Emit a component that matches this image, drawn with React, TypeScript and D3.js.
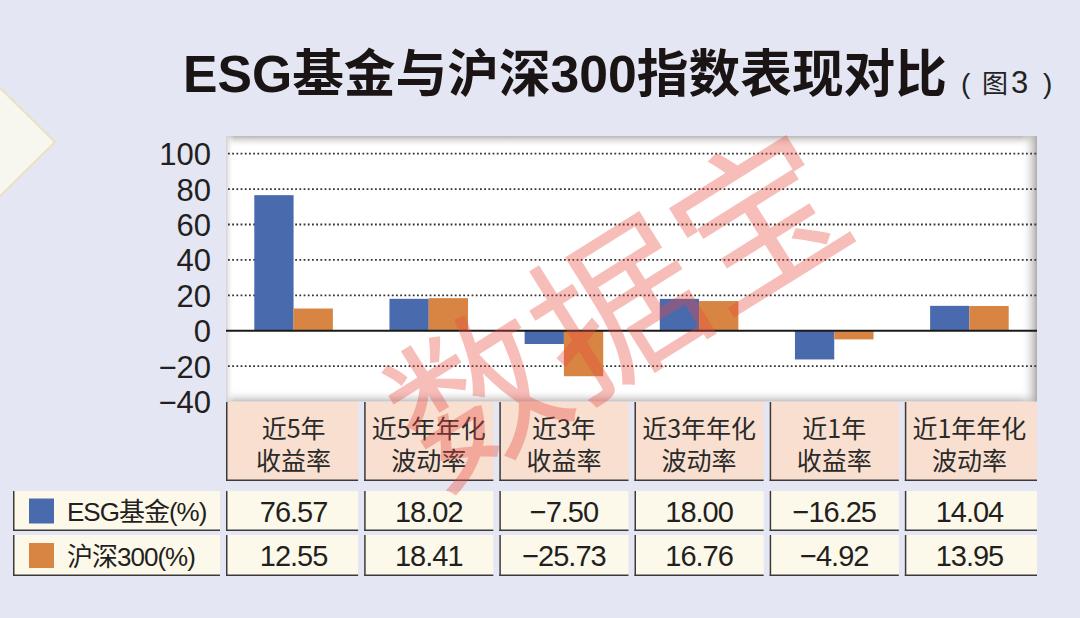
import React from "react";
import * as d3 from "d3";

const categories: string[][] = [
  ["近5年", "收益率"],
  ["近5年年化", "波动率"],
  ["近3年", "收益率"],
  ["近3年年化", "波动率"],
  ["近1年", "收益率"],
  ["近1年年化", "波动率"],
];
const seriesNames = ["ESG基金(%)", "沪深300(%)"];
const esgValues = [76.57, 18.02, -7.5, 18.0, -16.25, 14.04];
const hs300Values = [12.55, 18.41, -25.73, 16.76, -4.92, 13.95];
const esgLabels = ["76.57", "18.02", "−7.50", "18.00", "−16.25", "14.04"];
const hs300Labels = ["12.55", "18.41", "−25.73", "16.76", "−4.92", "13.95"];
const yTicks = [100, 80, 60, 40, 20, 0, -20, -40];
const title = "ESG基金与沪深300指数表现对比";
const subtitleParts = ["(", "图", "3", ")"];
const watermark = "数据宝";

const W = 1080;
const H = 618;
const BG = "#e4e6f3";
const BLUE = "#4a6aae";
const ORANGE = "#d88543";
const SANS = "'Liberation Sans', 'Noto Sans CJK SC', sans-serif";
const CJK = "'Noto Sans CJK SC', 'Liberation Sans', sans-serif";

const plot = { left: 226, right: 1037, top: 136, bottom: 401.5 };

export default function App() {
  const x = d3
    .scaleBand<number>()
    .domain(d3.range(categories.length))
    .range([plot.left, plot.right])
    .paddingInner(0)
    .paddingOuter(0);
  const xSub = d3
    .scaleBand<number>()
    .domain([0, 1])
    .range([0, x.bandwidth()])
    .paddingInner(0)
    .paddingOuter(0.72);
  const y = d3.scaleLinear().domain([-40, 110]).range([plot.bottom, plot.top]);
  const series = [esgValues, hs300Values];
  const labels = [esgLabels, hs300Labels];
  const colors = [BLUE, ORANGE];

  const gap = 3;
  const cellX0 = (i: number) => (x(i) as number) + (i === 0 ? 0 : gap);
  const cellX1 = (i: number) =>
    (x(i) as number) + x.bandwidth() - (i === categories.length - 1 ? 0 : gap);

  const header = { top: 402, bottom: 481 };
  const rows = [
    { top: 491, bottom: 531 },
    { top: 535, bottom: 576 },
  ];
  const legendCell = { x0: 13, x1: 220 };

  const Cell = ({ x0, x1, y0, y1, fill }: any) => (
    <g>
      <rect x={x0} y={y0} width={x1 - x0} height={y1 - y0} fill={fill} />
      <line x1={x0 + 0.75} x2={x0 + 0.75} y1={y0} y2={y1} stroke="#3a3a3a" strokeWidth={1.5} />
      <line x1={x0} x2={x1} y1={y1 - 0.75} y2={y1 - 0.75} stroke="#3a3a3a" strokeWidth={1.5} />
    </g>
  );

  const pw = plot.right - plot.left;
  const ph = plot.bottom - plot.top;

  return (
    <svg width={W} height={H} style={{ position: "absolute", left: 0, top: 0, display: "block" }}>
      <defs>
        <linearGradient id="shTop" x1="0" y1="0" x2="0" y2="1">
          <stop offset="0" stopColor="#b9b5b4" stopOpacity="1" />
          <stop offset="1" stopColor="#ffffff" stopOpacity="0" />
        </linearGradient>
        <linearGradient id="shBottom" x1="0" y1="1" x2="0" y2="0">
          <stop offset="0" stopColor="#c4c0bf" stopOpacity="1" />
          <stop offset="1" stopColor="#ffffff" stopOpacity="0" />
        </linearGradient>
        <linearGradient id="shRight" x1="1" y1="0" x2="0" y2="0">
          <stop offset="0" stopColor="#aeaaa9" stopOpacity="1" />
          <stop offset="1" stopColor="#ffffff" stopOpacity="0" />
        </linearGradient>
        <linearGradient id="shLeft" x1="0" y1="0" x2="1" y2="0">
          <stop offset="0" stopColor="#d6d3d2" stopOpacity="1" />
          <stop offset="1" stopColor="#ffffff" stopOpacity="0" />
        </linearGradient>
      </defs>
      <rect x={0} y={0} width={W} height={H} fill={BG} />

      {/* decorative diamond */}
      <polygon points="-6,82 55,142 -6,202 -66,142" fill="#f8f7ef" stroke="#ebdfc5" strokeWidth={2} />

      {/* title */}
      <text x={183} y={92} fontFamily={SANS} fontWeight="bold" fontSize={51.7} fill="#1a1414">
        {title}
      </text>
      <text fontFamily={SANS} fill="#222" y={93}>
        <tspan x={961} fontSize={28}>{subtitleParts[0]}</tspan>
        <tspan x={982} fontSize={26}>{subtitleParts[1]}</tspan>
        <tspan x={1011} fontSize={31}>{subtitleParts[2]}</tspan>
        <tspan x={1043} fontSize={28}>{subtitleParts[3]}</tspan>
      </text>

      {/* plot area */}
      <rect x={plot.left} y={plot.top} width={pw} height={ph} fill="#ffffff" />
      <rect x={plot.left} y={plot.top} width={pw} height={12} fill="url(#shTop)" />
      <rect x={plot.left} y={plot.bottom - 12} width={pw} height={12} fill="url(#shBottom)" />
      <rect x={plot.right - 16} y={plot.top} width={16} height={ph} fill="url(#shRight)" />
      <rect x={plot.left} y={plot.top} width={8} height={ph} fill="url(#shLeft)" />

      {/* gridlines */}
      {yTicks
        .filter((t) => t !== 0 && t !== -40)
        .map((t) => (
          <line
            key={t}
            x1={plot.left + 2}
            x2={plot.right}
            y1={y(t)}
            y2={y(t)}
            stroke="#333"
            strokeWidth={1.8}
            strokeDasharray="1.8 2.4"
          />
        ))}

      {/* bars */}
      {series.map((vals, s) =>
        vals.map((v, i) => (
          <rect
            key={`${s}-${i}`}
            x={(x(i) as number) + (xSub(s) as number)}
            y={Math.min(y(v), y(0))}
            width={xSub.bandwidth()}
            height={Math.abs(y(v) - y(0))}
            fill={colors[s]}
          />
        ))
      )}

      {/* zero line */}
      <line x1={plot.left} x2={plot.right} y1={y(0)} y2={y(0)} stroke="#1a1a1a" strokeWidth={2} />

      {/* y tick labels */}
      {yTicks.map((t) => (
        <text
          key={t}
          x={211}
          y={y(t) + 11.5}
          textAnchor="end"
          fontFamily={SANS}
          fontSize={31}
          fill="#231f20"
        >
          {t < 0 ? `−${Math.abs(t)}` : `${t}`}
        </text>
      ))}

      {/* header cells */}
      {categories.map((c, i) => (
        <g key={`h${i}`}>
          <Cell x0={cellX0(i)} x1={cellX1(i)} y0={header.top} y1={header.bottom} fill="#f8dfcf" />
          <text
            x={(x(i) as number) + x.bandwidth() / 2}
            textAnchor="middle"
            fontFamily={CJK}
            fontSize={25}
            fill="#2a2a2a"
          >
            {c.map((line, j) => (
              <tspan key={j} x={(x(i) as number) + x.bandwidth() / 2} y={438 + j * 32}>
                {line}
              </tspan>
            ))}
          </text>
        </g>
      ))}

      {/* data rows */}
      {rows.map((r, s) => (
        <g key={`r${s}`}>
          <Cell x0={legendCell.x0} x1={legendCell.x1} y0={r.top} y1={r.bottom} fill="#fdf9ea" />
          <rect x={29} y={(r.top + r.bottom) / 2 - 12.5} width={25} height={25} fill={colors[s]} />
          <text
            x={67}
            y={(r.top + r.bottom) / 2 + 10}
            fontFamily={SANS}
            fontSize={26}
            letterSpacing={-1}
            fill="#231f20"
          >
            {seriesNames[s]}
          </text>
          {labels[s].map((lab, i) => (
            <g key={i}>
              <Cell x0={cellX0(i)} x1={cellX1(i)} y0={r.top} y1={r.bottom} fill="#fdf9ea" />
              <text
                x={(x(i) as number) + x.bandwidth() / 2}
                y={(r.top + r.bottom) / 2 + 10.5}
                textAnchor="middle"
                fontFamily={SANS}
                fontSize={29}
                letterSpacing={-1}
                fill="#231f20"
              >
                {lab}
              </text>
            </g>
          ))}
        </g>
      ))}

      {/* watermark */}
      <text
        x={626}
        y={322}
        transform="rotate(-32 626 322)"
        textAnchor="middle"
        dominantBaseline="middle"
        fontFamily={CJK}
        fontSize={166}
        fill="rgb(232,72,62)"
        fillOpacity={0.36}
      >
        {watermark}
      </text>
    </svg>
  );
}
